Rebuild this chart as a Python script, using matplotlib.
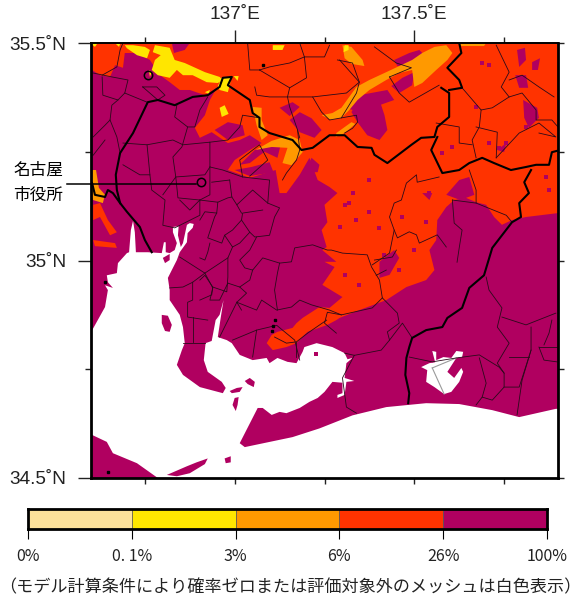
import matplotlib
matplotlib.use('Agg')
import matplotlib.pyplot as plt

#%% colours / classes
colores = ['#FBE09A', '#FFE600', '#FF9900', '#FF3300', '#B00060']
niveles = ['0%', '0. 1%', '3%', '6%', '26%', '100%']
nota = '（モデル計算条件により確率ゼロまたは評価対象外のメッシュは白色表示）'
lon_labels = {137.0: '137˚E', 137.5: '137.5˚E'}
lat_labels = {35.5: '35.5˚N', 35.0: '35˚N', 34.5: '34.5˚N'}
lon_minor = [136.75, 137.25, 137.75]
lat_minor = [35.25, 34.75]
ciudades = [(136.758, 35.426), (136.906, 35.180)]

#%% sea and lakes, (lon, lat)
mar = [(136.6,34.835),(136.639,34.893),(136.647,34.932),(136.639,34.943),(136.661,34.937),(136.647,34.950),
       (136.644,34.966),(136.672,34.971),(136.675,34.994),(136.700,35.017),(136.706,35.019),(136.711,35.070),
       (136.717,35.091),(136.722,35.065),(136.725,35.019),(136.758,35.019),(136.797,35.017),(136.803,35.042),
       (136.808,35.042),(136.808,35.019),(136.819,35.017),(136.833,35.024),(136.839,35.040),(136.828,35.065),
       (136.828,35.077),(136.844,35.079),(136.842,35.058),(136.850,35.031),(136.856,35.040),(136.867,35.082),
       (136.875,35.086),(136.886,35.084),(136.883,35.075),(136.869,35.063),(136.867,35.042),(136.847,35.019),
       (136.839,35.001),(136.828,34.983),(136.814,34.960),(136.819,34.932),(136.819,34.909),(136.847,34.875),
       (136.856,34.847),(136.861,34.810),(136.853,34.794),(136.839,34.760),(136.856,34.737),(136.903,34.709),
       (136.967,34.695),(136.975,34.707),(136.964,34.721),(136.925,34.744),(136.914,34.771),(136.919,34.810),
       (136.936,34.815),(136.947,34.863),(136.958,34.875),(136.969,34.909),(136.961,34.868),(136.953,34.824),
       (136.978,34.817),(136.992,34.810),(137.014,34.783),(137.050,34.771),(137.089,34.776),(137.097,34.764),
       (137.119,34.776),(137.147,34.767),(137.172,34.764),(137.189,34.790),(137.194,34.801),(137.228,34.810),
       (137.272,34.801),(137.306,34.787),(137.314,34.773),(137.328,34.776),(137.311,34.764),(137.306,34.730),
       (137.333,34.723),(137.311,34.721),(137.306,34.691),(137.286,34.684),(137.286,34.691),(137.300,34.695),
       (137.300,34.719),(137.272,34.721),(137.250,34.698),(137.231,34.684),(137.208,34.675),(137.181,34.661),
       (137.144,34.649),(137.125,34.652),(137.103,34.645),(137.078,34.661),(137.064,34.661),(137.014,34.580),
       (137.028,34.571),(137.161,34.594),(137.236,34.614),(137.328,34.644),(137.422,34.663),(137.533,34.672),
       (137.625,34.670),(137.717,34.656),(137.792,34.640),(137.894,34.659),(137.9,34.659),(137.9,34.5),
       (136.786,34.5),(136.728,34.534),(136.661,34.557),(136.644,34.583),(136.603,34.599),(136.6,34.599)]
lago = [(137.542,34.764),(137.558,34.766),(137.550,34.792),(137.561,34.790),(137.561,34.771),(137.581,34.778),
        (137.603,34.776),(137.617,34.792),(137.636,34.790),(137.633,34.778),(137.617,34.776),(137.592,34.744),
        (137.611,34.730),(137.631,34.753),(137.636,34.744),(137.625,34.721),(137.603,34.698),(137.583,34.693),
        (137.556,34.709),(137.533,34.721),(137.536,34.748),(137.519,34.755)]
puente = [[(137.550,34.753),(137.617,34.776)], [(137.550,34.753),(137.583,34.693)]]
islas = [[(136.797,34.875),(136.814,34.873),(136.825,34.852),(136.819,34.836),(136.806,34.838),(136.797,34.856)],
         [(136.800,35.006),(136.819,35.015),(136.819,35.001),(136.806,34.994)],
         [(137.028,34.723),(137.042,34.730),(137.056,34.721),(137.053,34.709),(137.036,34.716)],
         [(136.986,34.700),(137.006,34.707),(137.022,34.709),(137.014,34.698),(136.992,34.695)],
         [(136.994,34.668),(137.000,34.684),(137.011,34.686),(137.008,34.668),(137.003,34.654)],
         [(136.811,34.507),(136.867,34.527),(136.894,34.536),(136.925,34.545),(136.917,34.532),(136.875,34.511),(136.839,34.504)],
         [(136.972,34.545),(136.989,34.550),(136.989,34.536),(136.975,34.534)],
         [(137.222,34.790),(137.233,34.790),(137.233,34.781),(137.222,34.781)]]

#%% probability classes, (lon, lat)
zona_rojo = [(136.6,35.5),(137.9,35.5),(137.9,35.109),(137.811,35.100),(137.772,35.093),(137.744,35.082),
             (137.722,35.100),(137.700,35.128),(137.672,35.134),(137.644,35.144),(137.611,35.139),(137.589,35.123),
             (137.564,35.093),(137.561,35.047),(137.542,35.024),(137.556,34.978),(137.533,34.955),(137.478,34.939),
             (137.422,34.909),(137.347,34.886),(137.292,34.868),(137.283,34.863),(137.258,34.852),(137.203,34.836),
             (137.194,34.829),(137.172,34.810),(137.144,34.801),(137.106,34.794),(137.089,34.810),(137.103,34.829),
             (137.119,34.836),(137.161,34.845),(137.172,34.856),(137.189,34.868),(137.236,34.893),(137.264,34.891),
             (137.300,34.916),(137.244,34.944),(137.278,34.985),(137.250,34.997),(137.283,34.997),(137.244,35.024),
             (137.256,35.031),(137.242,35.070),(137.258,35.088),(137.250,35.128),
             (137.286,35.155),(137.264,35.169),(137.231,35.185),(137.208,35.236),(137.181,35.197),(137.144,35.155),
             (137.125,35.155),(137.114,35.208),(137.042,35.190),(136.981,35.208),(137.0,35.231),(137.042,35.254),
             (137.075,35.270),(137.042,35.288),(137.014,35.277),(136.981,35.270),(136.936,35.295),(136.903,35.282),
             (136.889,35.305),(136.917,35.334),(136.931,35.369),(136.950,35.397),(136.917,35.380),(136.875,35.392),
             (136.847,35.392),(136.819,35.410),(136.792,35.426),(136.764,35.461),(136.728,35.477),(136.694,35.477),
             (136.689,35.443),(136.667,35.449),(136.653,35.422),(136.625,35.426),(136.603,35.438),(136.6,35.44)]
zona_rojo_oeste = [[(136.606,35.128),(136.625,35.132),(136.647,35.093),(136.672,35.065),(136.653,35.058),(136.625,35.100),(136.606,35.093)],
                   [(136.606,35.047),(136.667,35.040),(136.672,35.029),(136.611,35.033)]]
zona_purpura = [[(137.347,35.376),(137.403,35.369),(137.417,35.334),(137.425,35.300),(137.403,35.277),(137.369,35.288),(137.342,35.318),(137.325,35.341)],
                [(137.306,35.351),(137.347,35.380),(137.425,35.392),(137.444,35.369),(137.403,35.357),(137.353,35.341)],
                [(137.436,35.401),(137.467,35.420),(137.500,35.433),(137.494,35.403),(137.458,35.385)],
                [(137.444,35.461),(137.486,35.477),(137.514,35.484),(137.528,35.472),(137.492,35.449),(137.453,35.447)],
                [(137.014,35.220),(137.056,35.254),(137.097,35.266),(137.128,35.266),(137.119,35.236),(137.083,35.250),(137.042,35.224)],
                [(137.0,35.208),(137.047,35.215),(137.097,35.226),(137.108,35.203),(137.042,35.194)],
                [(136.944,35.300),(136.981,35.318),(137.022,35.311),(137.028,35.288),(136.981,35.277)],
                [(137.153,35.323),(137.181,35.341),(137.214,35.327),(137.242,35.300),(137.222,35.282),(137.181,35.295)],
                [(137.125,35.351),(137.161,35.364),(137.181,35.353),(137.153,35.332)],
                [(137.194,35.203),(137.214,35.236),(137.236,35.220),(137.231,35.203)],
                [(137.786,35.484),(137.808,35.489),(137.811,35.461),(137.792,35.445)],
                [(137.828,35.456),(137.850,35.465),(137.844,35.438),(137.828,35.438)],
                [(137.781,35.426),(137.811,35.426),(137.817,35.397),(137.792,35.397)],
                [(137.803,35.369),(137.842,35.351),(137.847,35.328),(137.819,35.305),(137.806,35.328)],
                [(137.589,35.151),(137.625,35.185),(137.653,35.192),(137.667,35.151),(137.628,35.139)],
                [(137.522,35.155),(137.550,35.155),(137.542,35.139)],
                [(136.825,35.5),(136.875,35.5),(136.861,35.484),(136.831,35.477)],
                [(137.731,35.254),(137.756,35.270),(137.750,35.249)],
                [(137.403,34.997),(137.444,35.024),(137.458,35.006),(137.431,34.967),(137.403,34.960)]]
puntos_lon = [137.319,137.306,137.375,137.403,137.292,137.339,137.533,137.467,137.542,137.375,137.328,137.689,137.708,137.672,
              137.736,137.875,137.867,137.708,137.578,137.606,137.756,137.825,137.811,137.458,137.417,137.500,137.347,137.306]
puntos_lat = [35.132,35.128,35.111,35.075,35.077,35.093,35.088,35.100,35.155,35.185,35.155,35.454,35.449,35.353,
              35.259,35.162,35.192,35.270,35.247,35.261,35.270,35.339,35.307,34.978,35.013,35.024,34.944,34.967]
zona_naranja = [[(137.589,35.495),(137.606,35.477),(137.592,35.461),(137.561,35.438),(137.522,35.408),(137.500,35.399),(137.494,35.438),
                 (137.458,35.431),(137.422,35.415),(137.375,35.392),(137.342,35.369),(137.319,35.346),(137.297,35.328),(137.269,35.323),
                 (137.242,35.334),(137.272,35.339),(137.297,35.351),(137.339,35.399),(137.375,35.415),(137.422,35.433),(137.494,35.461),
                 (137.522,35.477),(137.556,35.491)],
                [(137.300,35.495),(137.325,35.491),(137.356,35.461),(137.361,35.447),(137.325,35.452),(137.306,35.465)],
                [(137.283,35.293),(137.325,35.318),(137.336,35.314),(137.306,35.293),(137.281,35.284)],
                [(137.050,35.353),(137.075,35.351),(137.075,35.323),(137.092,35.288),(137.075,35.277),(137.061,35.311)],
                [(137.058,35.254),(137.103,35.275),(137.153,35.288),(137.181,35.277),(137.189,35.249),(137.158,35.219),(137.133,35.224),(137.147,35.259),(137.103,35.261)],
                [(136.6,35.208),(136.614,35.208),(136.622,35.167),(136.639,35.151),(136.633,35.132),(136.606,35.139),(136.6,35.151)],
                [(137.625,35.5),(137.700,35.5),(137.694,35.493),(137.631,35.493)]]
zona_amarillo = [[(136.694,35.495),(136.717,35.495),(136.750,35.491),(136.764,35.484),(136.756,35.465),(136.728,35.472),(136.700,35.488)],
                 [(136.778,35.495),(136.819,35.489),(136.833,35.461),(136.861,35.454),(136.917,35.433),(136.958,35.422),(136.967,35.415),(136.953,35.408),
                  (136.922,35.410),(136.883,35.426),(136.856,35.426),(136.839,35.438),(136.819,35.420),(136.786,35.426),(136.769,35.438),(136.778,35.461),
                  (136.794,35.472),(136.772,35.479)],
                 [(136.964,35.420),(136.992,35.422),(136.986,35.403),(136.981,35.387),(136.958,35.392),(136.953,35.401)],
                 [(136.958,35.351),(136.972,35.357),(136.983,35.337),(136.964,35.330)],
                 [(137.106,35.495),(137.139,35.495),(137.133,35.484),(137.106,35.484)],
                 [(137.306,35.495),(137.317,35.495),(137.317,35.484),(137.303,35.479)],
                 [(136.6,35.498),(136.617,35.498),(136.611,35.491)],
                 [(136.669,35.498),(136.681,35.498),(136.678,35.491)],
                 [(136.917,35.387),(136.931,35.392),(136.928,35.383)],
                 [(136.761,35.438),(136.769,35.433),(136.764,35.422)],
                 [(136.997,35.424),(137.011,35.424),(137.008,35.413)]]

#%% prefecture borders
limite_grueso = [
    [(136.769,35.019),(136.750,35.047),(136.736,35.077),(136.700,35.112),(136.681,35.132),(136.672,35.162),(136.669,35.197),(136.681,35.247),
     (136.717,35.293),(136.758,35.364),(136.786,35.369),(136.833,35.357),(136.883,35.376),(136.925,35.380),(136.958,35.399),(136.967,35.420),
     (136.992,35.422),(136.981,35.403),(137.042,35.369),(137.050,35.339),(137.069,35.328),(137.069,35.307),(137.097,35.293),(137.133,35.284),
     (137.161,35.277),(137.186,35.254),(137.217,35.259),(137.264,35.288),(137.306,35.288),(137.342,35.261),(137.381,35.259),(137.389,35.243),
     (137.425,35.224),(137.492,35.266),(137.519,35.282),(137.556,35.284),(137.564,35.307),(137.597,35.330),(137.597,35.385),(137.575,35.397)],
    [(137.597,35.392),(137.633,35.397),(137.625,35.415),(137.592,35.443),(137.631,35.477),(137.625,35.5)],
    [(137.564,35.284),(137.547,35.254),(137.578,35.201),(137.625,35.208),(137.653,35.224),(137.689,35.236),(137.722,35.224),(137.769,35.208),
     (137.811,35.215),(137.839,35.220),(137.875,35.220),(137.883,35.249),(137.897,35.252)],
    [(137.825,35.208),(137.806,35.180),(137.819,35.155),(137.792,35.132),(137.797,35.100),(137.772,35.088),(137.717,35.029),(137.694,34.966),
     (137.653,34.937),(137.633,34.891),(137.592,34.868),(137.578,34.847),(137.533,34.840),(137.494,34.822),(137.486,34.801),(137.478,34.776),
     (137.475,34.737),(137.486,34.695),(137.483,34.672)],
    [(136.603,35.178),(136.611,35.151),(136.639,35.146),(136.647,35.162),(136.661,35.155),(136.681,35.132)]]

#%% municipal borders
limite_fino = [
    [(136.631,35.426),(136.672,35.445),(136.681,35.484),(136.689,35.5)],
    [(136.606,35.431),(136.658,35.422),(136.703,35.415),(136.694,35.385),(136.675,35.369),(136.633,35.380),(136.631,35.422)],
    [(136.675,35.369),(136.658,35.357),(136.653,35.323),(136.639,35.311),(136.606,35.284)],
    [(136.653,35.323),(136.672,35.284),(136.681,35.247)],
    [(136.606,35.242),(136.639,35.277)],
    [(136.694,35.385),(136.756,35.364)],
    [(136.744,35.399),(136.783,35.399),(136.806,35.380),(136.786,35.369),(136.744,35.399)],
    [(136.839,35.357),(136.833,35.330),(136.869,35.307),(136.853,35.261),(136.828,35.238),(136.836,35.192)],
    [(136.925,35.376),(136.903,35.346),(136.889,35.307),(136.869,35.307)],
    [(136.689,35.270),(136.756,35.266),(136.828,35.277),(136.856,35.266),(136.931,35.272),(136.931,35.215),(136.967,35.208),(137.022,35.192),
     (137.097,35.185),(137.092,35.132)],
    [(136.931,35.272),(136.981,35.277),(137.014,35.307),(137.022,35.334),(137.069,35.328)],
    [(137.022,35.192),(137.014,35.231),(137.069,35.266),(137.092,35.231),(137.042,35.194)],
    [(137.175,35.300),(137.181,35.254),(137.172,35.231),(137.144,35.201),(137.133,35.185)],
    [(136.689,35.220),(136.736,35.197),(136.764,35.197),(136.769,35.162),(136.806,35.139),(136.800,35.081),(136.833,35.075),(136.903,35.104),
     (136.903,35.139),(136.931,35.151),(136.931,35.215)],
    [(136.756,35.266),(136.764,35.197)],
    [(136.836,35.192),(136.917,35.197),(136.931,35.215)],
    [(136.800,35.151),(136.836,35.192),(136.842,35.144),(136.903,35.139)],
    [(136.936,35.180),(136.986,35.185)],
    [(136.847,35.139),(136.875,35.116),(136.903,35.139)],
    [(136.847,35.008),(136.917,34.971),(136.981,35.006)],
    [(136.819,34.937),(136.856,34.939),(136.883,34.950),(136.917,34.971)],
    [(136.883,34.950),(136.883,34.909),(136.869,34.904),(136.869,34.870),(136.925,34.863)],
    [(136.883,34.870),(136.883,34.813)],
    [(136.856,34.810),(136.917,34.810)],
    [(136.917,34.971),(136.939,34.937),(136.931,34.909),(136.958,34.909),(136.981,34.948)],
    # Toyota side
    [(136.903,35.139),(136.953,35.134),(136.981,35.144),(136.992,35.146)],
    [(136.986,35.185),(136.992,35.146),(137.006,35.128),(137.019,35.109)],
    [(137.006,35.128),(137.050,35.162),(137.092,35.132),(137.125,35.121),(137.111,35.100),(137.097,35.058),(137.056,35.054),(137.042,35.065),
     (137.019,35.093),(137.022,35.109),(137.078,35.116)],
    [(136.953,35.134),(136.950,35.109),(136.917,35.112),(136.903,35.093)],
    [(137.019,35.093),(136.994,35.070),(136.972,35.058),(136.964,35.040),(136.925,35.052),(136.944,35.100),(136.950,35.109)],
    [(137.042,35.065),(137.014,35.040),(136.994,35.031),(136.972,35.058)],
    [(137.061,35.054),(137.042,35.024),(137.014,35.001),(137.028,34.983),(137.050,34.978),(137.078,35.006),(137.125,34.994),(137.119,34.971),
     (137.111,34.932),(137.119,34.886)],
    [(137.125,34.994),(137.158,34.997),(137.167,35.029),(137.217,35.036),(137.258,35.024),(137.269,35.024),(137.300,35.017),(137.369,35.013),
     (137.381,34.985),(137.403,34.955),(137.411,34.914),(137.453,34.879),(137.458,34.856),(137.425,34.836),(137.431,34.817)],
    [(136.994,35.031),(136.981,35.006),(136.981,34.962),(136.978,34.928),(136.939,34.939),(136.917,34.966),(136.903,34.955)],
    [(136.931,35.040),(136.925,35.019),(136.917,35.001),(136.903,35.006)],
    [(137.050,34.978),(137.042,34.955),(137.014,34.939),(136.981,34.948)],
    [(137.014,34.939),(137.033,34.925),(137.006,34.904),(137.019,34.886)],
    [(136.939,34.939),(136.936,34.921),(136.903,34.909)],
    [(137.006,34.904),(137.061,34.886),(137.075,34.909),(137.117,34.886),(137.158,34.893),(137.181,34.909),(137.214,34.898),(137.264,34.886),(137.297,34.875)],
    [(136.958,34.824),(137.006,34.904)],
    [(136.994,34.817),(137.061,34.840),(137.050,34.778)],
    [(137.061,34.840),(137.117,34.851),(137.167,34.817),(137.181,34.771)],
    [(137.111,34.824),(137.144,34.810),(137.172,34.813),(137.203,34.833),(137.256,34.863)],
    [(137.172,34.813),(137.172,34.778)],
    [(137.306,34.787),(137.333,34.782),(137.408,34.794),(137.431,34.817),(137.467,34.856),(137.494,34.822)],
    [(137.333,34.782),(137.300,34.730),(137.311,34.663),(137.339,34.649)],
    [(137.383,34.990),(137.431,35.017),(137.444,35.070),(137.431,35.100),(137.444,35.132),(137.464,35.139),(137.478,35.178),(137.506,35.197),
     (137.508,35.180),(137.569,35.192)],
    [(137.444,35.070),(137.453,35.052),(137.486,35.066),(137.506,35.059),(137.514,35.040),(137.564,35.059),(137.589,35.031)],
    [(137.389,35.001),(137.439,35.008),(137.450,35.024)],
    [(137.394,34.966),(137.422,34.978)],
    [(137.411,34.914),(137.383,34.891),(137.297,34.875),(137.258,34.881),(137.250,34.856),(137.283,34.833)],
    [(137.486,34.778),(137.550,34.767),(137.617,34.776),(137.681,34.783),(137.736,34.755),(137.750,34.741),(137.750,34.709),(137.717,34.679),
     (137.689,34.686),(137.672,34.668)],
    [(137.681,34.776),(137.700,34.718),(137.689,34.686)],
    [(137.750,34.709),(137.792,34.709),(137.825,34.794),(137.825,34.847)],
    [(137.700,34.962),(137.708,34.932),(137.744,34.891),(137.731,34.847),(137.764,34.810),(137.731,34.764),(137.750,34.741)],
    [(137.744,34.870),(137.811,34.852),(137.894,34.879)],
    [(137.825,34.794),(137.800,34.725),(137.786,34.645)],
    [(137.764,34.778),(137.819,34.778)],
    [(137.847,34.801),(137.897,34.801)],
    [(137.861,34.806),(137.875,34.833),(137.883,34.863)],
    [(137.847,34.801),(137.861,34.771),(137.897,34.767)],
    [(137.728,35.495),(137.764,35.433),(137.742,35.399),(137.764,35.376),(137.800,35.385),(137.839,35.346),(137.839,35.323),(137.883,35.323),(137.9,35.307)],
    [(137.764,35.415),(137.800,35.426),(137.847,35.399),(137.889,35.376)],
    [(137.633,35.397),(137.686,35.346),(137.717,35.351),(137.764,35.376)],
    [(137.686,35.346),(137.681,35.307),(137.661,35.277),(137.672,35.236)],
    [(137.672,35.307),(137.731,35.295),(137.728,35.236)],
    [(137.561,35.316),(137.625,35.307),(137.625,35.270),(137.661,35.266)],
    [(137.728,35.236),(137.792,35.293),(137.847,35.316),(137.894,35.284),(137.847,35.293)],
    [(137.431,35.422),(137.458,35.385),(137.486,35.364),(137.569,35.403)],
    [(137.292,35.461),(137.347,35.410),(137.339,35.385),(137.297,35.328)],
    [(137.389,35.491),(137.450,35.454),(137.492,35.443),(137.431,35.422)],
    [(137.653,35.208),(137.672,35.162),(137.672,35.132),(137.756,35.104),(137.772,35.088)],
    [(137.606,35.139),(137.672,35.132)],
    [(137.606,35.139),(137.611,35.086),(137.633,35.070),(137.625,35.029),(137.619,34.996)],
    [(137.056,35.399),(137.061,35.380),(137.097,35.376),(137.147,35.376),(137.153,35.397),(137.200,35.420),(137.194,35.468),(137.250,35.468),(137.264,35.495)],
    [(137.069,35.438),(137.097,35.445),(137.153,35.454),(137.194,35.468)],
    [(137.069,35.438),(137.106,35.420),(137.153,35.397)],
    [(137.147,35.376),(137.153,35.353),(137.175,35.300),(137.181,35.282)],
    [(137.147,35.376),(137.217,35.376),(137.242,35.341),(137.264,35.323),(137.339,35.334),(137.342,35.318),(137.328,35.304),(137.306,35.293)],
    [(137.286,35.461),(137.328,35.454),(137.347,35.410),(137.311,35.385),(137.217,35.376)],
    [(137.036,35.5),(137.042,35.438),(137.069,35.438)],
    [(137.181,35.5),(137.194,35.468)]]
manchas_lon = [137.078, 137.106, 137.103, 137.111, 136.647, 136.639]
manchas_lat = [35.449, 34.849, 34.838, 34.863, 34.514, 34.950]

#%% map
fig = plt.figure(figsize=(5.8, 6), dpi=100)
ax = fig.add_axes([91/580, 122/600, 467/580, 435/600])
ax.set_facecolor(colores[4])
ax.set_xlim(136.6, 137.9)
ax.set_ylim(34.5, 35.5)

ax.fill(*zip(*zona_rojo), color=colores[3], lw=0)
for p in zona_rojo_oeste:
    ax.fill(*zip(*p), color=colores[3], lw=0)
for p in zona_purpura:
    ax.fill(*zip(*p), color=colores[4], lw=0)
ax.plot(puntos_lon, puntos_lat, 's', color=colores[4], ms=2.5, mew=0)
for p in zona_naranja:
    ax.fill(*zip(*p), color=colores[2], lw=0)
for p in zona_amarillo:
    ax.fill(*zip(*p), color=colores[1], lw=0)

ax.fill(*zip(*mar), color='white', lw=0)
for p in islas:
    ax.fill(*zip(*p), color=colores[4], lw=0)
ax.fill(*zip(*lago), color='white', lw=0)
for p in puente:
    ax.plot(*zip(*p), color='#9a9a9a', lw=0.8)

for p in limite_fino:
    ax.plot(*zip(*p), color='#2a0a1a', lw=0.6)
for p in limite_grueso:
    ax.plot(*zip(*p), color='black', lw=1.5)
ax.plot(manchas_lon, manchas_lat, 's', color='black', ms=2)

# marcador de ciudades y linea de nombre
for lon, lat in ciudades:
    ax.plot(lon, lat, 'o', mfc='none', mec='black', ms=6, mew=1.1)
ax.plot([136.533, 136.892], [35.176, 35.176], color='black', lw=1.1, clip_on=False)
fig.text(38/580, 1-170/600, '名古屋', family=['Noto Sans CJK JP', 'DejaVu Sans'], fontsize=12, ha='center', va='center')
fig.text(38/580, 1-195/600, '市役所', family=['Noto Sans CJK JP', 'DejaVu Sans'], fontsize=12, ha='center', va='center')

#%% ticks
ax.xaxis.tick_top()
ax.set_xticks(list(lon_labels))
ax.set_xticklabels(list(lon_labels.values()), family='Liberation Sans', fontsize=13.7)
ax.set_xticks(lon_minor, minor=True)
ax.set_yticks(list(lat_labels))
ax.set_yticklabels(list(lat_labels.values()), family='Liberation Sans', fontsize=13.7)
ax.set_yticks(lat_minor, minor=True)
ax.tick_params(which='major', length=9.5, width=1, color='#222222', labelcolor='#222222')
ax.tick_params(axis='x', which='major', pad=5)
ax.tick_params(axis='y', which='major', pad=8)
ax.tick_params(which='minor', length=4.5, width=1, color='#222222')
for s in ax.spines.values():
    s.set_linewidth(2.0)
ax.spines['top'].set_linewidth(1.4)

abajo = ax.secondary_xaxis('bottom')
abajo.set_xticks(list(lon_labels) + lon_minor, labels=[])
abajo.tick_params(length=4, width=1, color='#222222')
derecha = ax.secondary_yaxis('right')
derecha.set_yticks(list(lat_labels) + lat_minor, labels=[])
derecha.tick_params(length=4, width=1, color='#222222')
for a in (abajo, derecha):
    for s in a.spines.values():
        s.set_visible(False)

#%% colour scale
cax = fig.add_axes([28/580, 1-529/600, 519/580, 20/600])
for i, c in enumerate(colores):
    cax.barh(0, 1, left=i, height=1, color=c, edgecolor='#555555', lw=0.5)
cax.set_xlim(0, 5)
cax.set_ylim(-0.5, 0.5)
cax.set_yticks([])
cax.set_xticks(range(6))
cax.set_xticklabels(niveles, family=['Liberation Sans Narrow', 'Noto Sans CJK JP'], fontsize=11.5, color='#222222')
cax.tick_params(axis='x', length=7, width=0.8, pad=6.5)
for s in cax.spines.values():
    s.set_linewidth(2.0)

fig.text(290/580, 1-587/600, nota, family=['Noto Sans CJK JP', 'DejaVu Sans'], fontsize=12.3,
         color='#222222', ha='center', va='center')

fig.savefig('out.png', dpi=100)
